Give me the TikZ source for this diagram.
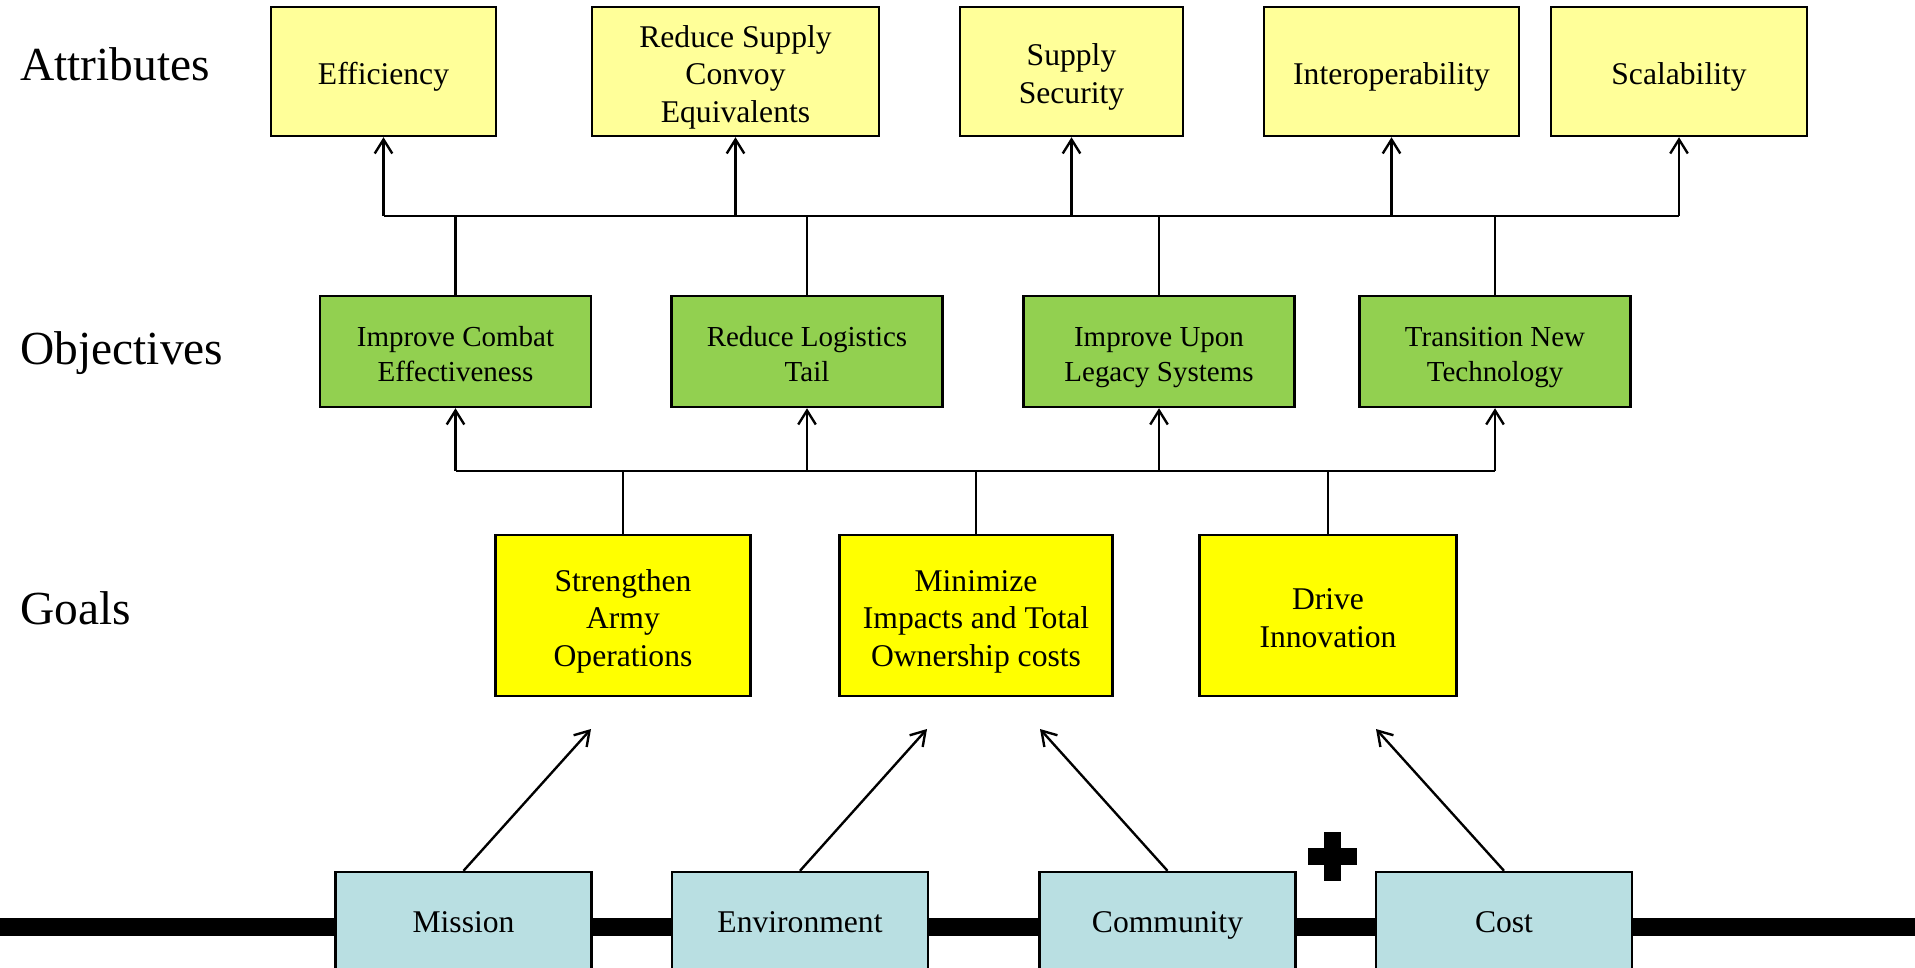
\documentclass[tikz,border=0pt]{standalone}
\usepackage{fontspec}
\setmainfont{Liberation Serif}
\usetikzlibrary{arrows.meta}
\definecolor{attrfill}{HTML}{FFFF99}
\definecolor{objfill}{HTML}{92D050}
\definecolor{goalfill}{HTML}{FFFF00}
\definecolor{basefill}{HTML}{B9DFE2}
\tikzset{
  box/.style={draw=black, line width=1.4pt, align=center, inner sep=2pt,
    text depth=0pt, font=\fontsize{18}{21.5}\selectfont},
  one/.style={text height=15.2pt},
  two/.style={text height=36.7pt},
  three/.style={text height=58.2pt},
  attr/.style={box, fill=attrfill, minimum height=2.58cm},
  obj/.style={box, fill=objfill, minimum width=5.42cm, minimum height=2.22cm,
    text height=34.1pt, font=\fontsize{16.5}{20}\selectfont},
  goal/.style={box, fill=goalfill, minimum height=3.22cm},
  base/.style={box, fill=basefill, minimum width=5.12cm, minimum height=2cm},
  rowlabel/.style={anchor=west, inner sep=0pt, font=\fontsize{27}{32}\selectfont},
  conn/.style={line width=1.35pt},
  arr/.style={conn, -{Straight Barb[length=8pt,width=10pt]}},
  track/.style={line width=10.2pt},
}
\begin{document}
\begin{tikzpicture}[x=0.02cm, y=-0.02cm]
        \def\busA{216}
        \def\busB{471}
        \useasboundingbox (0,0) rectangle (1915,967);
        % 底部粗线
        \coordinate (trackL) at (0,927);
        \coordinate (trackR) at (1915,927);
        \draw[track] (trackL) -- (trackR);
        % 行标题
        \node[rowlabel] (lattr) at (20,64) {Attributes};
        \node[rowlabel] (lobj) at (20,353) {Objectives};
        \node[rowlabel] (lgoal) at (20,608) {Goals};
        % Attributes
        \node[attr, one, minimum width=4.5cm] (eff) at (383.5,71.5) {Efficiency};
        \node[attr, three, minimum width=5.74cm] (convoy) at (735.5,71.5) {Reduce Supply\\Convoy\\Equivalents};
        \node[attr, two, minimum width=4.46cm] (secur) at (1071.5,71.5) {Supply\\Security};
        \node[attr, one, minimum width=5.1cm] (interop) at (1391.5,71.5) {Interoperability};
        \node[attr, one, minimum width=5.12cm] (scal) at (1679,71.5) {Scalability};
        % Objectives
        \node[obj] (combat) at (455.5,351.5) {Improve Combat\\Effectiveness};
        \node[obj] (logist) at (807,351.5) {Reduce Logistics\\Tail};
        \node[obj] (legacy) at (1159,351.5) {Improve Upon\\Legacy Systems};
        \node[obj] (newtech) at (1495,351.5) {Transition New\\Technology};
        % Goals
        \node[goal, three, minimum width=5.1cm] (army) at (623,615.5) {Strengthen\\Army\\Operations};
        \node[goal, three, minimum width=5.46cm] (impact) at (976,615.5) {Minimize\\Impacts and Total\\Ownership costs};
        \node[goal, two, minimum width=5.14cm] (innov) at (1328,615.5) {Drive\\Innovation};
        % 底部方框
        \node[base] (mission) at (463.5,922) {Mission};
        \node[base] (environ) at (800,922) {Environment};
        \node[base] (commun) at (1167.5,922) {Community};
        \node[base] (cost) at (1504,922) {Cost};
        % 加号
        \fill (1307.5,847.5) rectangle (1356.5,864.5);
        \fill (1323.5,831.5) rectangle (1340.5,880.5);
        % 上层总线
        \coordinate (busA) at (0,\busA);
        \draw[conn] (eff.south |- busA) -- (scal.south |- busA);
        \foreach \n in {eff,convoy,secur,interop,scal}
          \draw[arr] (\n.south |- busA) -- (\n.south);
        \foreach \n in {combat,logist,legacy,newtech}
          \draw[conn] (\n.north) -- (\n.north |- busA);
        % 下层总线
        \coordinate (busB) at (0,\busB);
        \draw[conn] (combat.south |- busB) -- (newtech.south |- busB);
        \foreach \n in {combat,logist,legacy,newtech}
          \draw[arr] (\n.south |- busB) -- (\n.south);
        \foreach \n in {army,impact,innov}
          \draw[conn] (\n.north) -- (\n.north |- busB);
        % 斜箭头
        \coordinate (tipM) at (591,729);
        \coordinate (tipE) at (927,729);
        \coordinate (tipC) at (1040,729);
        \coordinate (tipK) at (1376,729);
        \draw[arr] (mission.north) -- (tipM);
        \draw[arr] (environ.north) -- (tipE);
        \draw[arr] (commun.north) -- (tipC);
        \draw[arr] (cost.north) -- (tipK);
    \end{tikzpicture}
\end{document}
